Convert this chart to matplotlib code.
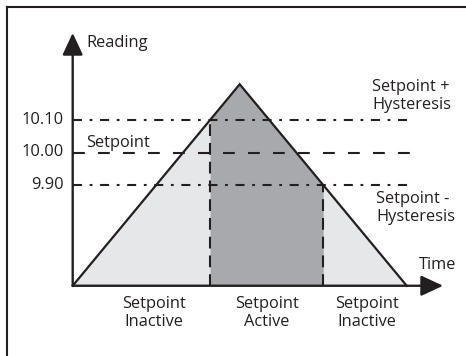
import numpy as np
import matplotlib
matplotlib.use("Agg")
import matplotlib.pyplot as plt
from matplotlib.lines import Line2D

plt.rcParams['font.family'] = ['Open Sans', 'DejaVu Sans']
plt.rcParams['lines.scale_dashes'] = False

# --- data -----------------------------------------------------------------
levels = [9.90, 10.00, 10.10]
level_labels = ["9.90", "10.00", "10.10"]
setpoint = 10.00
hyst = 0.10

ramp_time = [0, 5, 10]              # start, peak, end (arbitrary time)
ramp_reading = [9.59, 10.21, 9.59]  # reading along the ramp

zone_labels = ["Setpoint\nInactive", "Setpoint\nActive", "Setpoint\nInactive"]

INK = '#231f20'
LIGHT = '#e6e7e8'
DARK = '#a7a9ac'

# --- pixel <-> data mapping (figure is 466 x 356 px) ------------------------
W, H = 466, 356
x0px, xs = 72.7, 33.4       # t=0 at px 72.7, 33.4 px per unit
y0px, ys = 152.5, 325.0     # reading 10.00 at px 152.5, 325 px per unit

def tx(p):
    return (p - x0px) / xs

def ry(p):
    return setpoint + (y0px - p) / ys

fig = plt.figure(figsize=(W / 100, H / 100), dpi=100)
ax = fig.add_axes([0, 0, 1, 1])
ax.set_xlim(tx(0), tx(W))
ax.set_ylim(ry(H), ry(0))
ax.axis('off')

# outer frame (right/bottom edges lie outside the picture)
fig.add_artist(Line2D([7 / W, 7 / W], [0, 1 - 7 / H], color=INK, lw=1.5))
fig.add_artist(Line2D([7 / W, 1], [1 - 7 / H, 1 - 7 / H], color=INK, lw=1.5))

t0, tp, t1 = ramp_time
base, peak, _ = ramp_reading
on_level = setpoint + hyst
off_level = setpoint - hyst
t_on = t0 + (tp - t0) * (on_level - base) / (peak - base)
t_off = tp + (t1 - tp) * (peak - off_level) / (peak - ramp_reading[2])

# fills
ax.fill(ramp_time, ramp_reading, color=LIGHT, lw=0, zorder=1)
ax.fill_between([t_on, tp, t_off], [on_level, peak, off_level], base,
                color=DARK, lw=0, zorder=2)

# ramp outline
ax.plot(ramp_time, ramp_reading, color=INK, lw=1.6, zorder=5,
        solid_joinstyle='miter')

# horizontal reference lines
x_end = tx(412)
dashdot = (0, (6.5, 5.5, 2, 5.5))
ax.plot([0, x_end], [on_level, on_level], color=INK, lw=1.5, ls=dashdot, zorder=4)
ax.plot([0, x_end], [off_level, off_level], color=INK, lw=1.5, ls=dashdot, zorder=4)
ax.plot([0, x_end], [setpoint, setpoint], color=INK, lw=1.5,
        ls=(0, (8.5, 9.5)), zorder=4)

# vertical switching lines
ax.plot([t_on, t_on], [base, on_level], color=INK, lw=1.5, ls=(0, (8.5, 5)), zorder=4)
ax.plot([t_off, t_off], [base, off_level], color=INK, lw=1.5, ls=(0, (8.5, 5)), zorder=4)

# axes with arrowheads
arrow = dict(arrowstyle='-|>,head_length=0.9,head_width=0.42', mutation_scale=15,
             color=INK, lw=1.7, shrinkA=0, shrinkB=0)
ax.annotate('', xy=(0, ry(33)), xytext=(0, base), arrowprops=arrow, zorder=6)
ax.annotate('', xy=(tx(443), base), xytext=(0, base), arrowprops=arrow, zorder=6)

fs = 11.8
ax.text(tx(86), ry(43), "Reading", fontsize=fs, color=INK, ha='left', va='center')
ax.text(tx(419), ry(265), "Time", fontsize=fs, color=INK, ha='left', va='center')

for lv, lab in zip(levels, level_labels):
    ax.text(tx(64), lv, lab, fontsize=fs, color=INK, ha='right', va='center')

ax.text(tx(86), ry(143), "Setpoint", fontsize=fs, color=INK, ha='left', va='center')
ax.text(tx(372), ry(96), "Setpoint +\nHysteresis", fontsize=fs, color=INK,
        ha='left', va='center', linespacing=1.2)
ax.text(tx(376), ry(208), "Setpoint -\nHysteresis", fontsize=fs, color=INK,
        ha='left', va='center', linespacing=1.2)

zone_x = [tx(154), tx(267), tx(367)]
for xc, lab in zip(zone_x, zone_labels):
    ax.text(xc, ry(313), lab, fontsize=fs, color=INK, ha='center', va='center',
            linespacing=1.2)

fig.savefig('out.png', dpi=100)
